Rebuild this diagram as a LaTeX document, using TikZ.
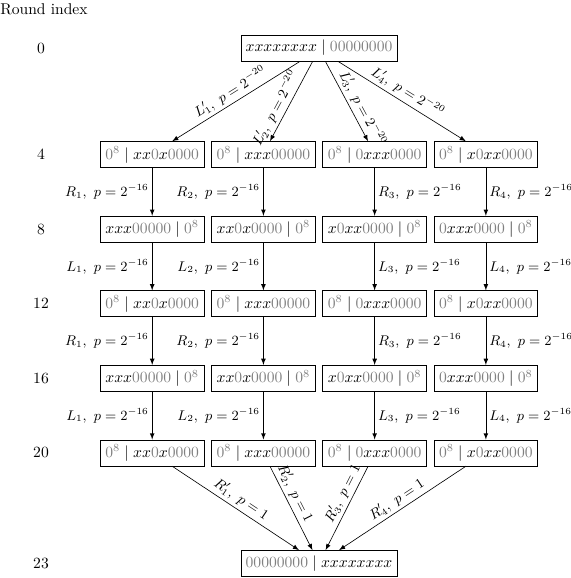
\documentclass[tikz,border=0pt]{standalone}
\usepackage{amsmath}
\usetikzlibrary{arrows,positioning}
\newcommand{\gz}[1]{{\color{gray}#1}}

\begin{document}
\begin{tikzpicture}[
  >=latex,
  box/.style={draw,inner sep=3pt,minimum width=66.5pt,minimum height=16.7pt},
  idx/.style={inner sep=0pt},
  lbl/.style={midway,inner sep=2pt,font=\small},
  node distance=30.7pt and 4.4pt,
  ]
  \useasboundingbox (-204.5pt,30.8pt) rectangle (160.9pt,-339.7pt);

  \node[box] (T) at (0,0) {$xxxxxxxx \mid \gz{00000000}$};

  \node[box, below left = 51.2pt and 2.2pt of T.south] (c2r4) {$\gz{0^8} \mid xxx\gz{00000}$};
  \node[box, left = of c2r4] (c1r4) {$\gz{0^8} \mid xx\gz{0}x\gz{0000}$};
  \node[box, right = of c2r4] (c3r4) {$\gz{0^8} \mid \gz{0}xxx\gz{0000}$};
  \node[box, right = of c3r4] (c4r4) {$\gz{0^8} \mid x\gz{0}xx\gz{0000}$};

  \node[box, below = of c1r4] (c1r8) {$xxx\gz{00000} \mid \gz{0^8}$};
  \node[box, below = of c2r4] (c2r8) {$xx\gz{0}x\gz{0000} \mid \gz{0^8}$};
  \node[box, below = of c3r4] (c3r8) {$x\gz{0}xx\gz{0000} \mid \gz{0^8}$};
  \node[box, below = of c4r4] (c4r8) {$\gz{0}xxx\gz{0000} \mid \gz{0^8}$};

  \node[box, below = of c1r8] (c1r12) {$\gz{0^8} \mid xx\gz{0}x\gz{0000}$};
  \node[box, below = of c2r8] (c2r12) {$\gz{0^8} \mid xxx\gz{00000}$};
  \node[box, below = of c3r8] (c3r12) {$\gz{0^8} \mid \gz{0}xxx\gz{0000}$};
  \node[box, below = of c4r8] (c4r12) {$\gz{0^8} \mid x\gz{0}xx\gz{0000}$};

  \node[box, below = of c1r12] (c1r16) {$xxx\gz{00000} \mid \gz{0^8}$};
  \node[box, below = of c2r12] (c2r16) {$xx\gz{0}x\gz{0000} \mid \gz{0^8}$};
  \node[box, below = of c3r12] (c3r16) {$x\gz{0}xx\gz{0000} \mid \gz{0^8}$};
  \node[box, below = of c4r12] (c4r16) {$\gz{0}xxx\gz{0000} \mid \gz{0^8}$};

  \node[box, below = of c1r16] (c1r20) {$\gz{0^8} \mid xx\gz{0}x\gz{0000}$};
  \node[box, below = of c2r16] (c2r20) {$\gz{0^8} \mid xxx\gz{00000}$};
  \node[box, below = of c3r16] (c3r20) {$\gz{0^8} \mid \gz{0}xxx\gz{0000}$};
  \node[box, below = of c4r16] (c4r20) {$\gz{0^8} \mid x\gz{0}xx\gz{0000}$};

  \node[box, below = 53.8pt of c2r20.south east, xshift=2.2pt] (B) {$\gz{00000000} \mid xxxxxxxx$};

  \node[idx, anchor=west] (title) at (-204.5pt,25pt) {Round index};
  \node[idx] (i0) at (-178.2pt,0) {0};
  \node[idx] (i4) at (i0 |- c1r4) {4};
  \node[idx] (i8) at (i0 |- c1r8) {8};
  \node[idx] (i12) at (i0 |- c1r12) {12};
  \node[idx] (i16) at (i0 |- c1r16) {16};
  \node[idx] (i20) at (i0 |- c1r20) {20};
  \node[idx] (i23) at (i0 |- B) {23};

  \draw [->] ([xshift=-12.2pt]T.south) -- ([xshift=12.8pt]c1r4.north) node[lbl, sloped, above] {$L'_1,\ p=2^{-20}$};
  \draw [->] ([xshift=-4.1pt]T.south) -- ([xshift=4.2pt]c2r4.north) node[lbl, pos=.65, sloped, above] {$L'_2,\ p=2^{-20}$};
  \draw [->] ([xshift=4.1pt]T.south) -- ([xshift=-4.2pt]c3r4.north) node[lbl, pos=.65, sloped, above] {$L'_3,\ p=2^{-20}$};
  \draw [->] ([xshift=12.2pt]T.south) -- ([xshift=-12.8pt]c4r4.north) node[lbl, sloped, above] {$L'_4,\ p=2^{-20}$};

  \draw [->] (c1r4) -- (c1r8) node[lbl, left] {$R_1,\ p=2^{-16}$};
  \draw [->] (c2r4) -- (c2r8) node[lbl, left] {$R_2,\ p=2^{-16}$};
  \draw [->] (c3r4) -- (c3r8) node[lbl, right] {$R_3,\ p=2^{-16}$};
  \draw [->] (c4r4) -- (c4r8) node[lbl, right] {$R_4,\ p=2^{-16}$};

  \draw [->] (c1r8) -- (c1r12) node[lbl, left] {$L_1,\ p=2^{-16}$};
  \draw [->] (c2r8) -- (c2r12) node[lbl, left] {$L_2,\ p=2^{-16}$};
  \draw [->] (c3r8) -- (c3r12) node[lbl, right] {$L_3,\ p=2^{-16}$};
  \draw [->] (c4r8) -- (c4r12) node[lbl, right] {$L_4,\ p=2^{-16}$};

  \draw [->] (c1r12) -- (c1r16) node[lbl, left] {$R_1,\ p=2^{-16}$};
  \draw [->] (c2r12) -- (c2r16) node[lbl, left] {$R_2,\ p=2^{-16}$};
  \draw [->] (c3r12) -- (c3r16) node[lbl, right] {$R_3,\ p=2^{-16}$};
  \draw [->] (c4r12) -- (c4r16) node[lbl, right] {$R_4,\ p=2^{-16}$};

  \draw [->] (c1r16) -- (c1r20) node[lbl, left] {$L_1,\ p=2^{-16}$};
  \draw [->] (c2r16) -- (c2r20) node[lbl, left] {$L_2,\ p=2^{-16}$};
  \draw [->] (c3r16) -- (c3r20) node[lbl, right] {$L_3,\ p=2^{-16}$};
  \draw [->] (c4r16) -- (c4r20) node[lbl, right] {$L_4,\ p=2^{-16}$};

  \draw [->] ([xshift=12.8pt]c1r20.south) -- ([xshift=-12.8pt]B.north) node[lbl, sloped, above] {$R'_1,\ p=1$};
  \draw [->] ([xshift=4.2pt]c2r20.south) -- ([xshift=-4.2pt]B.north) node[lbl, pos=.38, sloped, above] {$R'_2,\ p=1$};
  \draw [->] ([xshift=-4.2pt]c3r20.south) -- ([xshift=4.2pt]B.north) node[lbl, pos=.38, sloped, above] {$R'_3,\ p=1$};
  \draw [->] ([xshift=-12.8pt]c4r20.south) -- ([xshift=12.8pt]B.north) node[lbl, sloped, above] {$R'_4,\ p=1$};

\end{tikzpicture}
\end{document}
